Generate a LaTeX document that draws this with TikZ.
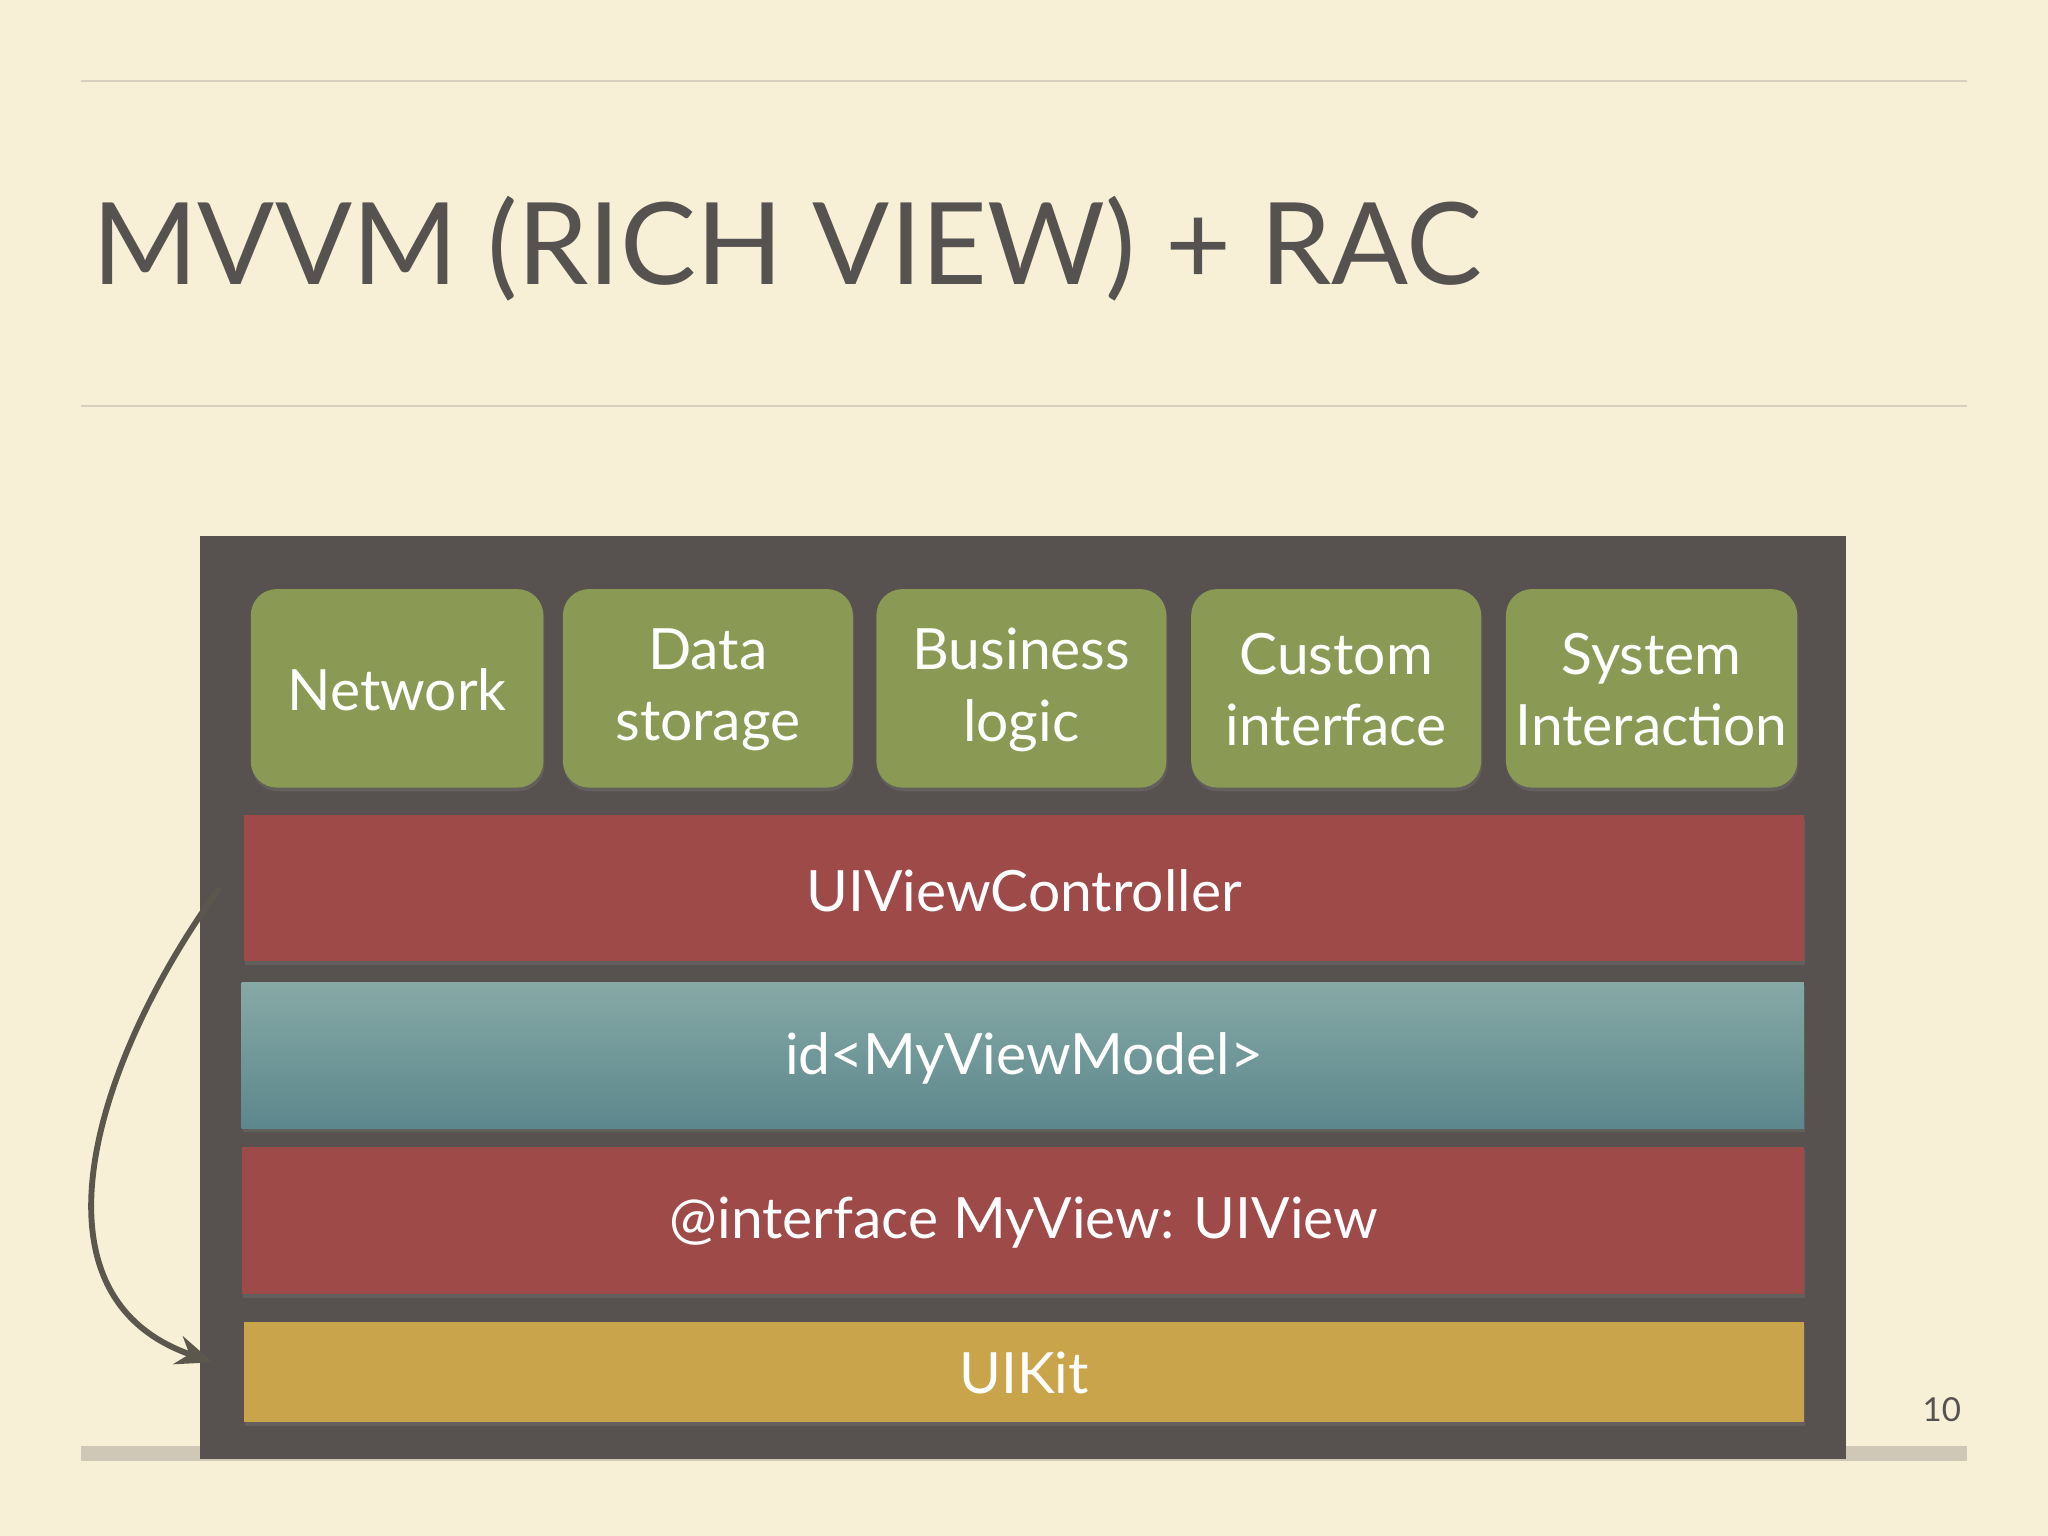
\documentclass[tikz,border=0pt]{standalone}
\usepackage{fontspec}
\setmainfont{Lato}
\usetikzlibrary{arrows.meta,shadows}
\definecolor{bg}{HTML}{F7EFD6}
\definecolor{rule}{HTML}{D8D0BC}
\definecolor{titlec}{HTML}{56524F}
\definecolor{frame}{HTML}{57524F}
\definecolor{grn}{HTML}{8A9A55}
\definecolor{redc}{HTML}{9E4A48}
\definecolor{tealtop}{HTML}{86A9A6}
\definecolor{tealbot}{HTML}{5C878C}
\definecolor{gold}{HTML}{C9A44A}
\definecolor{arrowc}{HTML}{5C574C}
\begin{document}
\begin{tikzpicture}[x=0.0125cm,y=-0.0125cm,
  lbl/.style={text=white,font=\fontsize{15.5}{19.5}\selectfont,align=center},
  gbox/.style={fill=grn,rounded corners=0.25cm,draw=none,drop shadow={opacity=0.3,shadow xshift=0.3pt,shadow yshift=-1pt}},
  bar/.style={draw=none,drop shadow={opacity=0.3,shadow xshift=0.3pt,shadow yshift=-1pt}}]
\fill[bg] (0,0) rectangle (1568,1176);
\useasboundingbox (0,0) rectangle (1568,1176);
\draw[rule,line width=0.6pt] (62,62) -- (1506,62);
\draw[rule,line width=0.6pt] (62,311) -- (1506,311);
\node[anchor=base west,text=titlec,inner sep=0,font=\fontsize{31}{36}\selectfont] (title) at (70,218) {MVVM (RICH VIEW) + RAC};
\draw[rule!90!gray,line width=4pt] (62,1113) -- (1506,1113);
\node[anchor=base east,text=titlec,font=\fontsize{9}{11}\selectfont,inner sep=0] (pg) at (1502,1088) {10};
\fill[frame] (153,410) rectangle (1413,1117);
\foreach \n/\a/\b/\t in {n1/192/416/Network,n2/431/653/{Data\\storage},n3/671/893/{Business\\logic},n4/912/1134/{Custom\\interface},n5/1153/1376/{System\\Interaction}}{
  \path[gbox] (\a,451) rectangle (\b,603);
  \node[lbl] (\n) at ({(\a+\b)/2},528) {\t};
}
\path[bar,fill=redc] (187,624) rectangle (1381,736);
\node[lbl] (vc) at (784,682) {UIViewController};
\path[bar,top color=tealtop,bottom color=tealbot] (185,752) rectangle (1381,864);
\node[lbl] (vm) at (784,810) {id<MyViewModel>};
\path[bar,fill=redc] (185,878) rectangle (1381,991);
\node[lbl] (v) at (784,936) {@interface MyView: UIView};
\path[bar,fill=gold] (187,1012) rectangle (1381,1089);
\node[lbl] (kit) at (784,1051) {UIKit};
\coordinate (s) at (168,680);
\coordinate (e) at (163,1043);
\draw[arrowc,line width=1.6pt,-{Stealth[length=10pt,width=8pt]}] (s) .. controls (80,800) and (10,990) .. (e);
\end{tikzpicture}
\end{document}
